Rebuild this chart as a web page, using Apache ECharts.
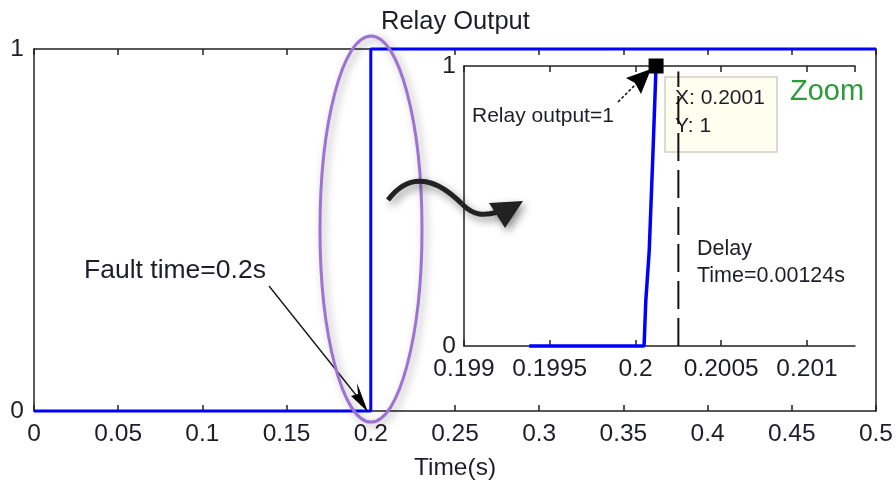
<!DOCTYPE html>
<html><head><meta charset="utf-8">
<script src="https://cdn.jsdelivr.net/npm/echarts@6/dist/echarts.min.js"></script>
<style>html,body{margin:0;padding:0;background:#fff}#c{width:896px;height:486px}</style>
</head><body><div id="c"></div>
<script>
// ---- data ----
const mainTime = [0, 0.2, 0.2, 0.5];
const mainOutput = [0, 0, 1, 1];
const zoomTime = [0.19938, 0.20005, 0.20006, 0.20008, 0.20009, 0.2001, 0.20011, 0.20012];
const zoomOutput = [0, 0, 0.16, 0.34, 0.5, 0.66, 0.83, 1];
const markerTime = [0.20012];
const markerOutput = [1];
const delayTime = [0.20025, 0.20025];
const delayOutput = [0, 0.98];
const mainXRange = [0, 0.5, 0.05];
const zoomXRange = [0.199, 0.20128, 0.0005];
const yRange = [0, 1, 1];
const titleText = 'Relay Output';
const xName = 'Time(s)';

const FONT = 'Arial, "Liberation Sans", sans-serif';
const TXT = '#1e1e28';
const AX = '#222';
const FS = 24.5;
const zip = (a, b) => a.map((v, i) => [v, b[i]]);
const fmt = v => String(+(+v).toFixed(5));

const chart = echarts.init(document.getElementById('c'), null, {renderer: 'canvas'});

function xAx(grid, range, pos, labels, extra) {
  return Object.assign({
    type: 'value', gridIndex: grid, position: pos,
    min: range[0], max: range[1], interval: range[2],
    axisLine: {show: true, onZero: false, lineStyle: {color: AX, width: 1.5}},
    axisTick: {show: true, inside: true, length: 6, lineStyle: {color: AX, width: 1.5}},
    axisLabel: {show: labels, fontSize: FS, color: TXT, fontFamily: FONT, margin: 11, formatter: fmt},
    splitLine: {show: false}
  }, extra || {});
}
function yAx(grid, pos, labels, margin) {
  return {
    type: 'value', gridIndex: grid, position: pos,
    min: yRange[0], max: yRange[1], interval: yRange[2],
    axisLine: {show: true, onZero: false, lineStyle: {color: AX, width: 1.5}},
    axisTick: {show: false},
    axisLabel: {show: labels, fontSize: FS, color: TXT, fontFamily: FONT, margin: margin},
    splitLine: {show: false}
  };
}

const curveStyle = {fill: 'none', stroke: '#222', lineWidth: 5, shadowBlur: 8,
  shadowColor: 'rgba(0,0,0,0.45)', shadowOffsetX: 3, shadowOffsetY: 4};

const option = {
  animation: false,
  backgroundColor: '#fff',
  title: {text: titleText, left: 376, top: 4,
    textStyle: {fontSize: 25.5, fontWeight: 'normal', color: TXT, fontFamily: FONT}},
  grid: [
    {left: 34, right: 20, top: 49, bottom: 73},
    {left: 464, right: 41, top: 66, bottom: 140, show: true, backgroundColor: '#fff', borderWidth: 0}
  ],
  xAxis: [
    xAx(0, mainXRange, 'bottom', true, {name: xName, nameLocation: 'middle', nameGap: 45,
      nameTextStyle: {fontSize: FS, color: TXT, fontFamily: FONT}}),
    xAx(0, mainXRange, 'top', false),
    xAx(1, zoomXRange, 'bottom', true, {axisLabel: {fontSize: FS, color: TXT, fontFamily: FONT, margin: 11,
      formatter: fmt, showMaxLabel: false}}),
    xAx(1, zoomXRange, 'top', false)
  ],
  yAxis: [
    yAx(0, 'left', true, 10),
    yAx(0, 'right', false, 0),
    yAx(1, 'left', true, 8)
  ],
  series: [
    {type: 'line', xAxisIndex: 0, yAxisIndex: 0, data: zip(mainTime, mainOutput),
      showSymbol: false, clip: false, z: 3, lineStyle: {color: '#0000ff', width: 3}},
    {type: 'line', xAxisIndex: 2, yAxisIndex: 2, data: zip(delayTime, delayOutput),
      showSymbol: false, z: 4, lineStyle: {color: '#111', width: 2, type: [28, 9]}},
    {type: 'line', xAxisIndex: 2, yAxisIndex: 2, data: zip(zoomTime, zoomOutput),
      showSymbol: false, clip: false, z: 5, lineStyle: {color: '#0000ff', width: 3.5}},
    {type: 'scatter', xAxisIndex: 2, yAxisIndex: 2, data: zip(markerTime, markerOutput),
      symbol: 'rect', symbolSize: 15, z: 6, itemStyle: {color: '#000', opacity: 1}}
  ],
  graphic: [
    // data-tip box
    {type: 'rect', z: 1, shape: {x: 665, y: 77, width: 112, height: 75},
      style: {fill: '#fffff0', stroke: '#cfcfc4', lineWidth: 1.5}},
    {type: 'text', z: 1, x: 675, y: 98, style: {text: 'X: 0.2001', font: '21px ' + FONT, fill: TXT, verticalAlign: 'middle'}},
    {type: 'text', z: 1, x: 675, y: 126, style: {text: 'Y: 1', font: '21px ' + FONT, fill: TXT, verticalAlign: 'middle'}},
    // Zoom label
    {type: 'text', z: 10, x: 790, y: 92, style: {text: 'Zoom', font: '29px ' + FONT, fill: '#2f9a3a', verticalAlign: 'middle'}},
    // Delay text
    {type: 'text', z: 10, x: 697, y: 249, style: {text: 'Delay', font: '21.5px ' + FONT, fill: TXT, verticalAlign: 'middle'}},
    {type: 'text', z: 10, x: 697, y: 276, style: {text: 'Time=0.00124s', font: '21.5px ' + FONT, fill: TXT, verticalAlign: 'middle'}},
    // Relay output=1 annotation
    {type: 'text', z: 10, x: 472, y: 116, style: {text: 'Relay output=1', font: '21px ' + FONT, fill: TXT, verticalAlign: 'middle'}},
    {type: 'line', z: 10, shape: {x1: 618, y1: 102, x2: 640, y2: 80}, style: {stroke: '#111', lineWidth: 1.5, lineDash: [3, 2]}},
    {type: 'polygon', z: 10, shape: {points: [[651, 69], [626, 78], [635, 83], [641, 94]]}, style: {fill: '#000'}},
    // Fault time annotation
    {type: 'text', z: 10, x: 84, y: 271, style: {text: 'Fault time=0.2s', font: '26.5px ' + FONT, fill: TXT, verticalAlign: 'middle'}},
    {type: 'line', z: 10, shape: {x1: 269, y1: 286, x2: 360, y2: 400}, style: {stroke: '#111', lineWidth: 1.3}},
    {type: 'polygon', z: 10, shape: {points: [[368, 412], [351, 396], [358, 394], [357, 383]]}, style: {fill: '#000'}},
    // purple ellipse
    {type: 'ellipse', z: 11, shape: {cx: 371, cy: 229, rx: 51, ry: 193},
      style: {fill: 'none', stroke: '#9d72d2', lineWidth: 3, shadowBlur: 8, shadowColor: 'rgba(0,0,0,0.35)', shadowOffsetX: 3, shadowOffsetY: 3}},
    // curved arrow
    {type: 'bezierCurve', z: 11, shape: {x1: 388, y1: 200, cpx1: 412, cpy1: 168, cpx2: 440, cpy2: 182, x2: 462, y2: 204}, style: curveStyle},
    {type: 'bezierCurve', z: 11, shape: {x1: 462, y1: 204, cpx1: 474, cpy1: 216, cpx2: 484, cpy2: 216, x2: 498, y2: 212}, style: curveStyle},
    {type: 'polygon', z: 11, shape: {points: [[489, 203], [523, 201], [505, 228]]},
      style: {fill: '#222', shadowBlur: 8, shadowColor: 'rgba(0,0,0,0.45)', shadowOffsetX: 3, shadowOffsetY: 4}}
  ]
};
chart.setOption(option);
</script></body></html>
